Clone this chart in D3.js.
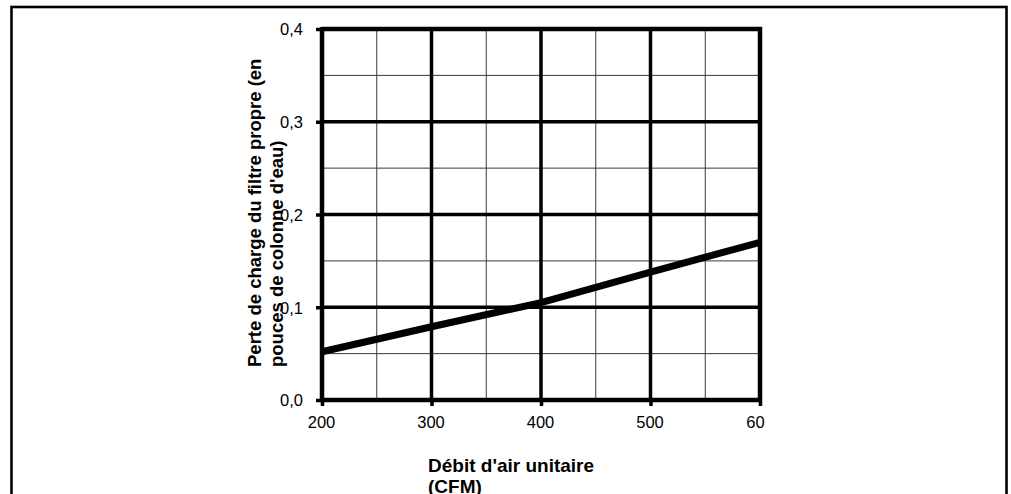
<!DOCTYPE html>
<html>
<head>
<meta charset="utf-8">
<script src="https://cdn.jsdelivr.net/npm/d3@7"></script>
<style>
  html, body { margin: 0; padding: 0; background: #fff; }
  svg { display: block; font-family: "Liberation Sans", Arial, sans-serif; }
</style>
</head>
<body>
<svg id="chart" width="1011" height="494"></svg>
<script>
// Airflow (CFM) and clean-filter pressure drop (inches of water column)
const airflow = [200, 300, 400, 500, 600];
const pressureDrop = [0.052, 0.079, 0.105, 0.138, 0.170];

// Axis ticks and their printed labels
const xTicks = [200, 300, 400, 500, 600];
const xTickLabels = ["200", "300", "400", "500", "60"];
const yTicks = [0, 0.1, 0.2, 0.3, 0.4];
const yTickLabels = ["0,0", "0,1", "0,2", "0,3", "0,4"];
const xMinorGrid = [250, 350, 450, 550];
const yMinorGrid = [0.05, 0.15, 0.25, 0.35];

const yTitleLines = ["Perte de charge du filtre propre (en", "pouces de colonne d'eau)"];
const xTitleLines = ["Débit d'air unitaire", "(CFM)"];

const svg = d3.select("#chart");

const plot = { left: 322, right: 760, top: 29, bottom: 400 };

const x = d3.scaleLinear().domain([200, 600]).range([plot.left, plot.right]);
const y = d3.scaleLinear().domain([0, 0.4]).range([plot.bottom, plot.top]);

// Outer frame
svg.append("rect")
  .attr("x", 11.5).attr("y", 7)
  .attr("width", 995).attr("height", 520)
  .attr("fill", "none").attr("stroke", "#000").attr("stroke-width", 2.6);

// Minor gridlines
const grid = svg.append("g");
grid.selectAll(".vminor").data(xMinorGrid).join("line")
  .attr("x1", d => x(d)).attr("x2", d => x(d))
  .attr("y1", plot.top).attr("y2", plot.bottom)
  .attr("stroke", "#3a3a3a").attr("stroke-width", 1);
grid.selectAll(".hminor").data(yMinorGrid).join("line")
  .attr("x1", plot.left).attr("x2", plot.right)
  .attr("y1", d => y(d)).attr("y2", d => y(d))
  .attr("stroke", "#3a3a3a").attr("stroke-width", 1);

// Major gridlines
grid.selectAll(".vmajor").data(xTicks.slice(1, -1)).join("line")
  .attr("x1", d => x(d)).attr("x2", d => x(d))
  .attr("y1", plot.top).attr("y2", plot.bottom)
  .attr("stroke", "#000").attr("stroke-width", 3.5);
grid.selectAll(".hmajor").data(yTicks.slice(1, -1)).join("line")
  .attr("x1", plot.left).attr("x2", plot.right)
  .attr("y1", d => y(d)).attr("y2", d => y(d))
  .attr("stroke", "#000").attr("stroke-width", 3.5);

// Plot border (top and right)
svg.append("path")
  .attr("d", `M${plot.left},${plot.top}H${plot.right}V${plot.bottom}`)
  .attr("fill", "none").attr("stroke", "#000").attr("stroke-width", 4.5);

// Axes
const xAxis = d3.axisBottom(x)
  .tickValues(xTicks)
  .tickSize(6)
  .tickFormat((d, i) => xTickLabels[i]);
const yAxis = d3.axisLeft(y)
  .tickValues(yTicks)
  .tickSize(6)
  .tickFormat((d, i) => yTickLabels[i]);

const gx = svg.append("g")
  .attr("transform", `translate(0,${plot.bottom})`)
  .call(xAxis);
gx.select(".domain").attr("stroke-width", 4.5).attr("d", `M${plot.left - 2},0H${plot.right + 2}`);
gx.selectAll(".tick line").attr("stroke-width", 3.5);
gx.selectAll(".tick text")
  .attr("font-size", 16.5).attr("fill", "#000")
  .attr("dy", null).attr("y", 28)
  .attr("x", (d, i) => i === xTicks.length - 1 ? -5 : -1);

const gy = svg.append("g")
  .attr("transform", `translate(${plot.left},0)`)
  .call(yAxis);
gy.select(".domain").attr("stroke-width", 4.5).attr("d", `M0,${plot.top - 2}V${plot.bottom + 2}`);
gy.selectAll(".tick line").attr("stroke-width", 3.5);
gy.selectAll(".tick text")
  .attr("font-size", 16.5).attr("fill", "#000")
  .attr("x", -19).attr("dy", "0.36em");

// Data line
const line = d3.line()
  .x((d, i) => x(airflow[i]))
  .y(d => y(d));
svg.append("path")
  .datum(pressureDrop)
  .attr("d", line)
  .attr("fill", "none")
  .attr("stroke", "#000")
  .attr("stroke-width", 7);

// Y axis title (two lines, rotated)
const yTitle = svg.append("text")
  .attr("transform", "translate(0,367) rotate(-90)")
  .attr("font-size", 18.5).attr("font-weight", "bold").attr("fill", "#000");
yTitle.selectAll("tspan").data(yTitleLines).join("tspan")
  .attr("x", 0)
  .attr("y", (d, i) => 261 + i * 22)
  .text(d => d);

// X axis title (two lines)
const xTitle = svg.append("text")
  .attr("font-size", 19).attr("font-weight", "bold").attr("fill", "#000");
xTitle.selectAll("tspan").data(xTitleLines).join("tspan")
  .attr("x", 428)
  .attr("y", (d, i) => 472 + i * 21)
  .text(d => d);
</script>
</body>
</html>
